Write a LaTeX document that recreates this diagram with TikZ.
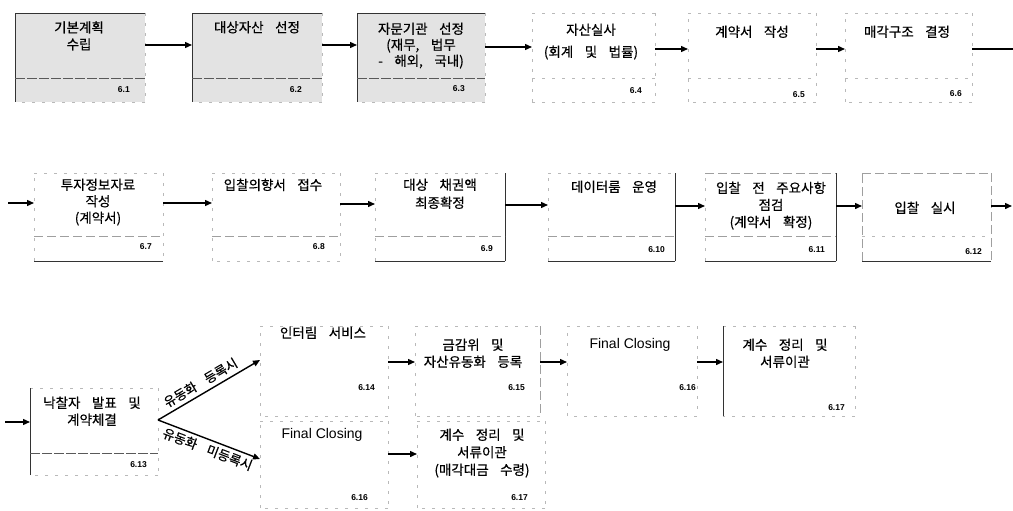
\documentclass[tikz,border=0pt]{standalone}
\usepackage{fontspec}
\setmainfont{Liberation Sans}
\newfontfamily\kfont[WordSpace=3.8, FakeBold=0.5]{Noto Sans CJK KR}
\usetikzlibrary{arrows.meta}
\tikzset{
  bx/.style={draw=none, inner sep=0pt, outer sep=0pt},
  shade/.style={fill=gray!22},
  sl/.style={draw=black!80, line width=0.9pt},
  fl/.style={draw=gray!55, line width=0.6pt, dash pattern=on 3pt off 7pt},
  dv/.style={draw=gray!75, line width=0.7pt, dash pattern=on 9pt off 4pt},
  dk/.style={draw=black!65, line width=0.8pt, dash pattern=on 10pt off 2pt},
  ktxt/.style={font=\kfont\fontsize{13.5}{17}\selectfont, align=center, inner sep=0pt, anchor=north},
  etxt/.style={font=\fontsize{14}{17}\selectfont, align=center, inner sep=0pt, anchor=north},
  num/.style={font=\bfseries\fontsize{8.5}{10}\selectfont, inner sep=0pt, anchor=east},
  lbl/.style={font=\kfont\fontsize{13}{14}\selectfont, inner sep=0pt},
  arr/.style={draw=black, line width=1.4pt, -{Triangle[length=7pt,width=6pt]}},
  ln/.style={draw=black, line width=1.4pt}
}
\newcommand{\bsides}[5]{%
  \draw[#2] (#1.north west) -- (#1.north east);
  \draw[#3] (#1.north east) -- (#1.south east);
  \draw[#4] (#1.south east) -- (#1.south west);
  \draw[#5] (#1.south west) -- (#1.north west);}
\newcommand{\bdiv}[3]{\draw[#3] ([yshift=-#2pt]#1.north west) -- ([yshift=-#2pt]#1.north east);}
\begin{document}
\begin{tikzpicture}[x=1pt, y=-1pt]
\useasboundingbox (0,0) rectangle (1013,511);
% ---------- row 1 ----------
\node[bx, shade, minimum width=130pt, minimum height=89pt] (b1) at (80,57.5) {};
\node[bx, shade, minimum width=130pt, minimum height=89pt] (b2) at (257,57.5) {};
\node[bx, shade, minimum width=128pt, minimum height=89pt] (b3) at (421,57.5) {};
\node[bx, minimum width=123pt, minimum height=89pt] (b4) at (593.5,57.5) {};
\node[bx, minimum width=128pt, minimum height=89pt] (b5) at (752,57.5) {};
\node[bx, minimum width=127pt, minimum height=89pt] (b6) at (908.5,57.5) {};
% ---------- row 2 ----------
\node[bx, minimum width=129pt, minimum height=88pt] (b7) at (98.5,217) {};
\node[bx, minimum width=128pt, minimum height=88pt] (b8) at (276,217) {};
\node[bx, minimum width=130pt, minimum height=88pt] (b9) at (440,217) {};
\node[bx, minimum width=127pt, minimum height=88pt] (b10) at (611.5,217) {};
\node[bx, minimum width=131pt, minimum height=88pt] (b11) at (770.5,217) {};
\node[bx, minimum width=129pt, minimum height=88pt] (b12) at (926.5,217) {};
% ---------- row 3 ----------
\node[bx, minimum width=128pt, minimum height=87pt] (b13) at (94,431.5) {};
\node[bx, minimum width=128pt, minimum height=90pt] (b14) at (324,371) {};
\node[bx, minimum width=125pt, minimum height=90pt] (b15) at (477.5,371) {};
\node[bx, minimum width=130pt, minimum height=90pt] (b16) at (632,371) {};
\node[bx, minimum width=132pt, minimum height=90pt] (b17) at (789,371) {};
\node[bx, minimum width=128pt, minimum height=87pt] (b18) at (324,464.5) {};
\node[bx, minimum width=128pt, minimum height=87pt] (b19) at (481,464.5) {};
% ---------- box edges ----------
\bsides{b1}{sl}{fl}{fl}{sl} \bdiv{b1}{65}{dk}
\bsides{b2}{sl}{fl}{fl}{sl} \bdiv{b2}{65}{dk}
\bsides{b3}{sl}{fl}{fl}{sl} \bdiv{b3}{65}{dk}
\bsides{b4}{fl}{fl}{fl}{fl} \bdiv{b4}{65}{fl}
\bsides{b5}{fl}{fl}{fl}{fl} \bdiv{b5}{65}{fl}
\bsides{b6}{fl}{fl}{fl}{fl} \bdiv{b6}{65}{fl}
\bsides{b7}{fl}{fl}{sl}{fl} \bdiv{b7}{63}{dv}
\bsides{b8}{fl}{fl}{fl}{fl} \bdiv{b8}{63}{dv}
\bsides{b9}{fl}{sl}{sl}{fl} \bdiv{b9}{63}{dv}
\bsides{b10}{fl}{sl}{sl}{fl} \bdiv{b10}{63}{dv}
\bsides{b11}{dv}{sl}{sl}{fl} \bdiv{b11}{63}{dv}
\bsides{b12}{dv}{dv}{sl}{dv} \bdiv{b12}{63}{fl}
\bsides{b13}{fl}{fl}{fl}{sl} \bdiv{b13}{65}{dk}
\bsides{b14}{fl}{fl}{fl}{fl}
\bsides{b15}{fl}{dv}{fl}{fl}
\bsides{b16}{fl}{fl}{fl}{fl}
\bsides{b17}{fl}{fl}{fl}{sl}
\bsides{b18}{fl}{fl}{fl}{fl}
\bsides{b19}{fl}{fl}{fl}{fl}
% ---------- texts ----------
\node[ktxt] (t1) at (79,21) {기본계획\\수립};
\node[ktxt] (t2) at (257,21) {대상자산 선정};
\node[ktxt, font=\kfont\fontsize{13.5}{16}\selectfont] (t3) at (421,22.5) {자문기관 선정\\(재무, 법무\\- 해외, 국내)};
\node[ktxt, font=\kfont\fontsize{13.5}{22}\selectfont] (t4) at (591,23.5) {자산실사\\(회계 및 법률)};
\node[ktxt] (t5) at (752,25.5) {계약서 작성};
\node[ktxt] (t6) at (907,25.5) {매각구조 결정};
\node[ktxt, font=\kfont\fontsize{13.5}{16.5}\selectfont] (t7) at (98,178.5) {투자정보자료\\작성\\(계약서)};
\node[ktxt] (t8) at (273,178.5) {입찰의향서 접수};
\node[ktxt, font=\kfont\fontsize{13.5}{18}\selectfont] (t9) at (440,178.5) {대상 채권액\\최종확정};
\node[ktxt] (t10) at (614,180.5) {데이터룸 운영};
\node[ktxt] (t11) at (771,181.5) {입찰 전 주요사항\\점검\\(계약서 확정)};
\node[ktxt] (t12) at (925,201.5) {입찰 실시};
\node[ktxt] (t13) at (92,396.5) {낙찰자 발표 및\\계약체결};
\node[ktxt] (t14) at (323,326.5) {인터림 서비스};
\node[ktxt] (t15) at (473,338.5) {금감위 및\\자산유동화 등록};
\node[etxt] (t16) at (630,338) {Final Closing};
\node[ktxt] (t17) at (785,338.5) {계수 정리 및\\서류이관};
\node[etxt] (t18) at (322,428) {Final Closing};
\node[ktxt, font=\kfont\fontsize{13.5}{17.5}\selectfont] (t19) at (482,428.5) {계수 정리 및\\서류이관\\(매각대금 수령)};
% ---------- numbers ----------
\node[num] (n1) at (130,90) {6.1};
\node[num] (n2) at (302,90) {6.2};
\node[num] (n3) at (465,89) {6.3};
\node[num] (n4) at (642,91) {6.4};
\node[num] (n5) at (805,95) {6.5};
\node[num] (n6) at (962,94) {6.6};
\node[num] (n7) at (152,247) {6.7};
\node[num] (n8) at (325,247) {6.8};
\node[num] (n9) at (493,249) {6.9};
\node[num] (n10) at (665,250) {6.10};
\node[num] (n11) at (825,250) {6.11};
\node[num] (n12) at (982,252) {6.12};
\node[num] (n13) at (147,465) {6.13};
\node[num] (n14) at (375,388) {6.14};
\node[num] (n15) at (525,388) {6.15};
\node[num] (n16) at (696,388) {6.16};
\node[num] (n17) at (845,408) {6.17};
\node[num] (n18) at (368,498) {6.16};
\node[num] (n19) at (528,498) {6.17};
% ---------- connectors ----------
\draw[arr] ([yshift=-32pt]b1.north east) -- ([yshift=-32pt]b2.north west);
\draw[arr] ([yshift=-32pt]b2.north east) -- ([yshift=-32pt]b3.north west);
\draw[arr] ([yshift=-34pt]b3.north east) -- ([yshift=-34pt]b4.north west);
\draw[arr] ([yshift=-36pt]b4.north east) -- ([yshift=-36pt]b5.north west);
\draw[arr] ([yshift=-36pt]b5.north east) -- ([yshift=-36pt]b6.north west);
\coordinate (r1out) at (1013,49);
\draw[ln] (b6.east |- r1out) -- (r1out);
\coordinate (r2in) at (8,203);
\draw[arr] (r2in) -- (r2in -| b7.west);
\draw[arr] ([yshift=-30pt]b7.north east) -- ([yshift=-30pt]b8.north west);
\draw[arr] ([yshift=-31pt]b8.north east) -- ([yshift=-31pt]b9.north west);
\draw[arr] ([yshift=-32pt]b9.north east) -- ([yshift=-32pt]b10.north west);
\draw[arr] ([yshift=-33pt]b10.north east) -- ([yshift=-33pt]b11.north west);
\draw[arr] ([yshift=-33pt]b11.north east) -- ([yshift=-33pt]b12.north west);
\coordinate (r2out) at (1012,206);
\draw[arr] (b12.east |- r2out) -- (r2out);
\coordinate (r3in) at (5,422);
\draw[arr] (r3in) -- (r3in -| b13.west);
\coordinate (split) at ([yshift=-32pt]b13.north east);
\draw[arr] (split) -- node[lbl, sloped, above=4pt, pos=0.47] (l1) {유동화 등록시} ([yshift=-34pt]b14.north west);
\draw[arr] (split) -- node[lbl, sloped, below=3pt, pos=0.52] (l2) {유동화 미등록시} ([yshift=-38pt]b18.north west);
\draw[arr] ([yshift=-36pt]b14.north east) -- ([yshift=-36pt]b15.north west);
\draw[arr] ([yshift=-36pt]b15.north east) -- ([yshift=-36pt]b16.north west);
\draw[arr] ([yshift=-36pt]b16.north east) -- ([yshift=-36pt]b17.north west);
\draw[arr] ([yshift=-33pt]b18.north east) -- ([yshift=-33pt]b19.north west);
\end{tikzpicture}
\end{document}
